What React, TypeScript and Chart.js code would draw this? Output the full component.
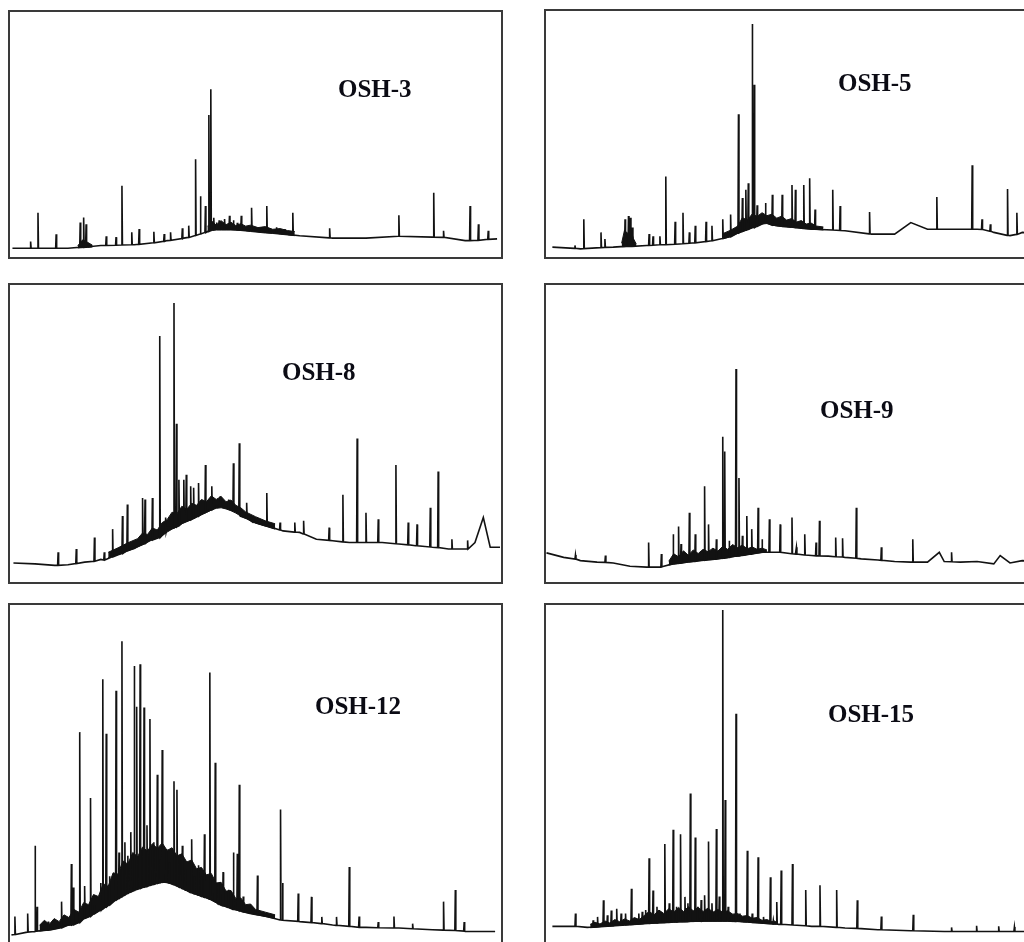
import React, { useEffect, useRef } from "react";
import { Chart, registerables } from "chart.js";

Chart.register(...registerables);

type Pt = [number, number];
type Pk = [number, number, number]; // [retention, baseline under peak, peak top]
type Bd = [number, number, number]; // [retention, lower edge, upper edge] of unresolved hump

// ---------- OSH-3 ----------
const osh3Baseline: Pt[] = [
  [0.5, 3.6], [11.8, 3.6], [18.5, 4.7], [25.3, 5.0], [32.0, 6.7], [35.4, 7.7], [38.8, 9.4],
  [41.5, 11.4], [45.5, 11.4], [52.3, 10.1], [59.0, 8.7], [65.7, 7.7], [72.5, 7.7],
  [79.2, 8.5], [86.0, 8.1], [92.7, 6.7], [99.2, 7.4],
];
const osh3Peaks: Pk[] = [
  [4.2, 3.6, 6.3], [5.7, 3.6, 18.1], [9.4, 3.6, 9.3], [14.3, 4.0, 14.1], [15.0, 4.0, 16.1],
  [15.5, 4.1, 13.4], [19.6, 4.7, 8.5], [21.6, 4.8, 8.1], [22.8, 4.9, 29.1], [24.8, 5.0, 10.1],
  [26.3, 5.2, 11.4], [29.3, 5.8, 10.3], [31.4, 6.4, 9.4], [32.7, 6.8, 10.1], [35.1, 7.5, 11.7],
  [36.4, 8.0, 12.8], [37.8, 8.8, 39.9], [38.8, 9.4, 24.8], [39.8, 10.0, 20.8], [40.5, 10.6, 58.0],
  [40.9, 11.0, 68.5], [41.5, 11.3, 16.0], [42.1, 11.4, 14.1], [42.6, 11.4, 15.0], [43.2, 11.4, 13.8],
  [43.7, 11.4, 15.5], [44.7, 11.4, 16.8], [45.5, 11.4, 15.0], [46.3, 11.2, 14.0], [47.1, 11.0, 16.8],
  [49.2, 10.7, 20.1], [52.3, 10.1, 20.8], [54.3, 9.8, 12.1], [56.0, 9.4, 11.4], [57.6, 9.0, 18.1],
  [65.1, 7.8, 11.7], [79.2, 8.5, 17.0], [86.3, 8.1, 26.2], [88.3, 8.0, 10.7], [93.7, 6.7, 20.8],
  [95.4, 6.8, 13.4], [97.4, 7.2, 10.7],
];
const osh3HumpEarly: Bd[] = [
  [13.8, 3.7, 4.6], [14.8, 3.8, 7.0], [15.8, 3.9, 6.0], [16.8, 4.1, 4.8],
];
const osh3HumpMain: Bd[] = [
  [40.2, 10.2, 12.5], [41.2, 10.8, 14.5], [42.0, 11.0, 13.0], [43.0, 11.0, 14.8], [44.0, 11.0, 13.2],
  [45.0, 11.0, 14.2], [46.0, 10.9, 12.8], [47.0, 10.8, 13.6], [48.0, 10.6, 12.6], [49.0, 10.4, 13.0],
  [50.5, 10.1, 12.0], [52.0, 9.8, 12.4], [53.5, 9.6, 11.3], [55.0, 9.3, 11.6], [56.5, 9.0, 10.8],
  [58.0, 8.7, 10.4],
];

// ---------- OSH-5 ----------
const osh5Baseline: Pt[] = [
  [1.3, 4.0], [7.0, 3.3], [13.7, 4.0], [20.5, 4.7], [27.2, 5.3], [33.9, 6.7], [39.3, 10.0],
  [42.0, 12.0], [44.7, 14.0], [47.4, 12.7], [54.1, 11.3], [60.9, 10.7], [66.3, 9.3], [71.0, 9.3],
  [74.3, 14.0], [77.7, 11.3], [81.1, 11.3], [87.8, 11.3], [91.2, 10.0], [94.5, 8.7], [97.0, 10.0],
  [100, 9.5],
];
const osh5Peaks: Pk[] = [
  [5.9, 3.5, 4.7], [7.7, 3.4, 15.3], [11.2, 3.8, 10.0], [12.0, 3.9, 7.3], [16.1, 4.3, 15.3],
  [16.8, 4.3, 16.7], [17.2, 4.3, 16.0], [17.6, 4.3, 12.0], [21.0, 4.7, 9.3], [21.8, 4.8, 8.4],
  [23.2, 5.0, 8.4], [24.4, 5.0, 32.7], [26.3, 5.2, 14.3], [27.9, 5.4, 18.0], [29.2, 5.6, 10.0],
  [30.4, 5.8, 12.7], [32.6, 6.3, 14.3], [33.8, 6.6, 12.7], [36.0, 7.5, 15.3], [37.6, 8.3, 17.3],
  [39.2, 9.8, 58.0], [40.0, 10.5, 24.0], [40.7, 11.0, 27.3], [41.2, 11.3, 30.0], [42.0, 12.0, 94.7],
  [42.4, 12.0, 70.0], [43.0, 12.5, 21.0], [44.7, 14.0, 22.0], [46.1, 13.0, 25.3], [48.1, 12.5, 25.3],
  [50.1, 12.2, 29.3], [50.8, 12.0, 27.3], [52.5, 11.6, 29.3], [53.7, 11.4, 32.0], [54.8, 11.3, 19.3],
  [58.4, 11.0, 27.3], [59.9, 10.8, 20.7], [65.9, 9.4, 18.3], [79.6, 11.3, 24.4], [86.8, 11.3, 37.3],
  [88.8, 11.2, 15.3], [90.5, 10.5, 13.3], [94.0, 8.8, 27.6], [95.9, 9.2, 18.0],
];
const osh5HumpEarly: Bd[] = [
  [15.4, 4.2, 5.6], [16.0, 4.2, 11.0], [16.6, 4.3, 9.5], [17.2, 4.3, 12.0], [17.8, 4.4, 7.5], [18.4, 4.4, 5.2],
];
const osh5HumpMain: Bd[] = [
  [36.0, 7.4, 9.5], [37.5, 8.2, 10.8], [39.0, 9.6, 12.5], [40.0, 10.3, 16.0], [41.0, 11.0, 15.0],
  [42.0, 11.8, 17.5], [43.0, 12.6, 16.5], [44.0, 13.4, 18.0], [45.0, 13.6, 16.8], [46.0, 13.0, 17.4],
  [47.0, 12.6, 15.8], [48.0, 12.4, 16.6], [49.0, 12.2, 15.0], [50.0, 12.0, 15.6], [51.0, 11.9, 14.2],
  [52.0, 11.7, 14.8], [53.0, 11.5, 13.4], [54.0, 11.3, 13.8], [55.0, 11.2, 12.6], [56.5, 11.0, 12.2],
];

// ---------- OSH-8 ----------
const osh8Baseline: Pt[] = [
  [0.7, 6.4], [5.1, 6.1], [9.1, 5.6], [11.8, 5.8], [15.2, 6.7], [18.5, 7.6], [21.9, 9.1],
  [25.3, 11.3], [28.7, 14.4], [32.0, 18.3], [35.4, 20.6], [38.8, 22.8], [42.1, 25.6], [44.8, 24.4],
  [46.9, 22.2], [49.6, 20.0], [52.3, 18.9], [55.6, 17.2], [59.0, 16.7], [62.4, 14.4], [65.7, 13.9],
  [69.1, 13.3], [72.5, 13.3], [75.8, 13.3], [79.2, 12.8], [82.6, 12.2], [86.0, 11.7], [89.3, 11.1],
  [92.7, 11.1], [94.7, 13.3], [96.4, 21.7], [97.8, 11.7], [99.8, 11.7],
];
const osh8Peaks: Pk[] = [
  [9.8, 5.6, 10.0], [13.5, 6.2, 11.1], [17.2, 7.0, 15.0], [19.2, 7.4, 10.0], [20.9, 8.5, 17.8],
  [22.9, 9.6, 22.2], [23.9, 10.6, 26.1], [27.0, 12.8, 28.3], [27.5, 13.0, 27.8], [29.0, 14.2, 28.3],
  [30.5, 15.0, 82.8], [31.7, 16.8, 21.7], [33.4, 18.3, 93.9], [33.9, 18.6, 53.3], [34.4, 19.0, 34.4],
  [35.4, 20.2, 34.4], [35.9, 20.5, 36.1], [36.8, 21.0, 32.2], [37.4, 21.5, 31.7], [38.4, 22.3, 33.3],
  [39.8, 23.5, 39.4], [41.1, 24.4, 32.2], [42.8, 25.6, 28.9], [44.5, 24.8, 27.8], [45.5, 24.2, 40.0],
  [46.7, 23.2, 46.7], [48.2, 21.5, 26.7], [49.5, 20.2, 22.2], [52.3, 18.9, 30.0], [55.0, 17.5, 20.0],
  [58.0, 16.8, 20.0], [59.8, 16.2, 20.6], [65.0, 14.0, 18.3], [67.8, 13.5, 29.4], [70.7, 13.3, 48.3],
  [72.5, 13.3, 23.3], [75.0, 13.3, 21.1], [78.6, 12.9, 39.4], [81.1, 12.5, 20.0], [82.9, 12.2, 19.4],
  [85.6, 11.8, 25.0], [87.2, 11.6, 37.2], [90.0, 11.1, 14.4], [93.2, 11.1, 14.0],
];
const osh8Hump: Bd[] = [
  [20.0, 8.2, 10.0], [22.0, 9.2, 11.5], [24.0, 10.4, 13.2], [26.0, 11.8, 14.6], [27.0, 12.5, 16.5],
  [28.0, 13.4, 16.0], [29.0, 14.2, 18.2], [30.0, 14.8, 17.5], [31.0, 15.6, 20.0], [32.0, 16.8, 21.0],
  [33.0, 17.8, 23.5], [34.0, 18.6, 23.0], [35.0, 19.6, 25.5], [36.0, 20.3, 24.5], [37.0, 21.0, 26.5],
  [38.0, 21.8, 25.8], [39.0, 22.6, 27.8], [40.0, 23.4, 27.0], [41.0, 24.2, 29.0], [42.0, 24.8, 27.8],
  [43.0, 25.0, 28.8], [44.0, 24.6, 27.0], [45.0, 24.0, 27.6], [46.0, 23.2, 25.8], [47.0, 22.2, 25.0],
  [48.0, 21.4, 23.6], [50.0, 19.8, 22.0], [52.0, 18.8, 20.6], [54.0, 17.8, 19.6],
];

// ---------- OSH-9 ----------
const osh9Baseline: Pt[] = [
  [0.1, 9.8], [3.6, 8.3], [7.0, 7.2], [10.4, 6.7], [13.7, 6.4], [17.1, 5.3], [20.5, 5.0],
  [23.8, 5.2], [25.9, 6.1], [28.6, 6.7], [31.2, 7.2], [33.9, 7.6], [37.3, 8.3], [40.7, 9.1],
  [44.0, 10.0], [47.4, 10.0], [50.8, 9.4], [54.1, 8.9], [57.5, 8.7], [60.9, 8.3], [64.2, 7.8],
  [67.6, 7.4], [71.0, 6.9], [74.3, 6.7], [77.7, 6.7], [80.1, 10.0], [81.1, 6.9], [84.4, 6.7],
  [87.8, 6.9], [91.2, 6.1], [92.5, 8.9], [94.5, 6.4], [97.0, 7.2], [100, 6.9],
];
const osh9Peaks: Pk[] = [
  [6.0, 7.7, 9.1], [12.1, 6.6, 8.9], [20.9, 5.0, 13.3], [23.5, 5.1, 9.4], [25.9, 6.1, 16.1],
  [27.0, 6.3, 18.7], [27.5, 6.4, 12.8], [29.2, 6.8, 23.3], [30.4, 7.0, 16.1], [32.3, 7.3, 32.2],
  [33.1, 7.5, 19.4], [34.7, 7.7, 14.4], [36.0, 8.0, 48.9], [36.4, 8.1, 43.9], [37.3, 8.3, 13.9],
  [38.7, 8.7, 71.7], [39.3, 8.8, 35.0], [40.0, 9.0, 15.6], [40.9, 9.2, 22.2], [41.9, 9.4, 17.8],
  [43.2, 9.8, 25.0], [44.0, 10.0, 14.4], [45.5, 10.0, 21.1], [47.7, 10.0, 19.4], [50.1, 9.5, 21.7],
  [51.0, 9.4, 11.7], [52.7, 9.1, 16.1], [55.0, 8.8, 13.3], [55.7, 8.8, 20.6], [59.0, 8.5, 15.0],
  [60.4, 8.4, 14.7], [63.2, 8.0, 25.0], [68.3, 7.3, 11.7], [74.7, 6.7, 14.4], [82.6, 6.8, 10.0],
];
const osh9Hump: Bd[] = [
  [25.0, 5.7, 7.0], [26.0, 6.0, 9.5], [27.0, 6.2, 8.5], [28.0, 6.5, 10.5], [29.0, 6.7, 9.0],
  [30.0, 6.9, 10.8], [31.0, 7.1, 9.6], [32.0, 7.3, 11.0], [33.0, 7.4, 10.2], [34.0, 7.6, 11.4],
  [35.0, 7.8, 10.4], [36.0, 8.0, 12.0], [37.0, 8.2, 11.0], [38.0, 8.5, 12.6], [39.0, 8.7, 11.6],
  [40.0, 9.0, 12.4], [41.0, 9.2, 11.2], [42.0, 9.5, 11.8], [43.0, 9.7, 11.0], [44.0, 9.9, 11.4],
  [45.0, 10.0, 10.8],
];

// ---------- OSH-12 ----------
const osh12Baseline: Pt[] = [
  [0.3, 2.7], [5.1, 3.7], [8.4, 4.2], [11.8, 5.6], [15.2, 7.6], [18.5, 10.0], [21.9, 13.2],
  [25.3, 15.8], [28.7, 17.3], [31.4, 18.3], [33.4, 17.5], [36.7, 15.2], [40.1, 13.6], [42.8, 11.6],
  [45.5, 10.2], [48.9, 9.0], [52.3, 8.1], [55.6, 7.1], [59.0, 6.6], [65.7, 5.6], [72.5, 4.9],
  [79.2, 4.7], [86.0, 4.2], [92.7, 3.7], [98.8, 3.7],
];
const osh12Peaks: Pk[] = [
  [1.0, 2.8, 8.1], [3.6, 3.5, 9.0], [5.1, 3.7, 29.0], [5.5, 3.8, 11.0], [7.8, 4.1, 6.6],
  [10.5, 4.8, 12.5], [12.5, 5.6, 23.6], [12.9, 5.7, 16.7], [14.2, 6.4, 62.5], [15.2, 7.6, 17.1],
  [16.4, 8.2, 43.1], [17.2, 9.0, 11.5], [18.5, 10.0, 18.0], [18.9, 10.4, 78.1], [19.6, 11.0, 62.0],
  [20.3, 11.6, 20.0], [21.6, 13.0, 74.7], [22.2, 13.5, 27.0], [22.8, 14.0, 89.3], [23.4, 14.5, 30.0],
  [24.0, 15.0, 26.0], [24.6, 15.4, 33.0], [25.3, 15.8, 82.0], [25.8, 16.1, 70.0], [26.5, 16.4, 82.5],
  [27.3, 16.8, 69.8], [27.9, 17.0, 35.0], [28.5, 17.3, 66.4], [29.3, 17.6, 30.0], [30.0, 17.9, 49.9],
  [30.6, 18.1, 25.0], [31.0, 18.2, 57.2], [31.8, 18.2, 28.0], [32.4, 18.0, 24.0], [33.4, 17.5, 48.0],
  [34.0, 17.1, 45.5], [34.6, 16.7, 26.0], [35.1, 16.4, 29.0], [35.8, 15.9, 22.0], [37.0, 15.1, 30.9],
  [37.6, 14.8, 20.0], [38.4, 14.4, 23.2], [39.0, 14.1, 20.0], [39.6, 13.8, 32.4], [40.7, 13.2, 80.1],
  [41.8, 12.5, 53.5], [42.4, 11.9, 18.0], [43.4, 11.3, 21.2], [44.5, 10.8, 16.0], [45.5, 10.2, 27.0],
  [46.3, 10.0, 26.6], [46.7, 9.8, 47.0], [47.5, 9.5, 14.0], [50.4, 8.6, 20.2], [55.1, 7.1, 39.7],
  [55.5, 7.0, 18.0], [58.7, 6.7, 14.9], [61.4, 6.3, 13.9], [63.5, 6.0, 8.0], [66.5, 5.5, 8.0],
  [69.1, 5.2, 22.7], [71.1, 4.9, 8.1], [75.0, 4.8, 6.5], [78.2, 4.7, 8.1], [82.0, 4.5, 6.0],
  [88.3, 4.1, 12.5], [90.7, 4.0, 15.9], [92.5, 3.8, 6.5],
];
const osh12Hump: Bd[] = [
  [6.0, 3.8, 5.5], [7.0, 4.0, 7.0], [8.0, 4.1, 5.8], [9.0, 4.4, 7.5], [10.0, 4.7, 6.6],
  [11.0, 5.2, 8.6], [12.0, 5.5, 7.8], [13.0, 5.9, 10.2], [14.0, 6.3, 9.4], [15.0, 7.4, 12.2],
  [16.0, 8.0, 11.6], [17.0, 8.8, 14.6], [18.0, 9.6, 14.0], [19.0, 10.5, 17.8], [20.0, 11.3, 17.0],
  [21.0, 12.4, 21.0], [22.0, 13.4, 20.6], [23.0, 14.2, 24.5], [24.0, 15.0, 23.6], [25.0, 15.6, 27.0],
  [26.0, 16.2, 25.8], [27.0, 16.7, 28.6], [28.0, 17.1, 27.4], [29.0, 17.5, 29.6], [30.0, 17.9, 28.2],
  [31.0, 18.2, 29.8], [32.0, 18.1, 27.6], [33.0, 17.7, 28.4], [34.0, 17.1, 26.0], [35.0, 16.5, 26.6],
  [36.0, 15.7, 24.2], [37.0, 15.1, 24.8], [38.0, 14.6, 22.2], [39.0, 14.1, 22.6], [40.0, 13.6, 20.4],
  [41.0, 13.0, 20.8], [42.0, 12.2, 18.0], [43.0, 11.5, 18.2], [44.0, 11.0, 15.6], [45.0, 10.5, 15.8],
  [46.0, 10.1, 13.4], [47.0, 9.7, 13.6], [48.0, 9.3, 11.6], [49.0, 9.0, 11.8], [50.0, 8.7, 10.2],
  [52.0, 8.1, 9.4], [54.0, 7.5, 8.6],
];

// ---------- OSH-15 ----------
const osh15Baseline: Pt[] = [
  [1.3, 5.2], [5.7, 5.2], [8.4, 4.9], [13.7, 5.4], [20.5, 6.1], [27.2, 6.6], [33.9, 6.8],
  [40.7, 6.6], [47.4, 5.8], [54.1, 5.2], [60.9, 4.7], [67.6, 4.2], [74.3, 3.9], [81.1, 3.7],
  [87.8, 3.7], [97.0, 3.7], [100, 3.7],
];
const osh15Peaks: Pk[] = [
  [6.0, 5.2, 9.0], [9.6, 5.0, 7.0], [10.5, 5.1, 8.0], [11.7, 5.3, 12.9], [12.5, 5.3, 8.5],
  [13.3, 5.4, 9.9], [14.4, 5.6, 10.4], [15.3, 5.7, 9.0], [16.2, 5.7, 9.0], [17.4, 5.8, 16.3],
  [18.9, 5.9, 9.0], [19.6, 6.0, 9.5], [20.3, 6.1, 10.0], [21.0, 6.1, 25.3], [21.8, 6.2, 15.8],
  [22.6, 6.2, 11.0], [23.3, 6.3, 9.0], [24.2, 6.3, 29.5], [25.1, 6.4, 12.0], [25.9, 6.5, 33.7],
  [26.6, 6.5, 11.0], [27.4, 6.6, 32.4], [28.3, 6.6, 13.9], [28.9, 6.6, 12.0], [29.4, 6.7, 44.4],
  [30.4, 6.7, 31.4], [30.9, 6.7, 11.0], [31.6, 6.7, 13.0], [32.3, 6.8, 14.4], [33.1, 6.8, 30.2],
  [33.8, 6.8, 12.0], [34.7, 6.8, 33.9], [35.3, 6.8, 14.0], [36.0, 6.8, 98.5], [36.5, 6.8, 42.5],
  [37.1, 6.8, 11.0], [37.8, 6.8, 9.0], [38.7, 6.7, 67.9], [39.5, 6.7, 9.0], [40.3, 6.6, 8.0],
  [41.0, 6.6, 27.5], [42.0, 6.4, 9.0], [43.2, 6.3, 25.6], [44.3, 6.1, 8.0], [45.7, 6.0, 19.7],
  [46.3, 5.9, 7.0], [47.0, 5.9, 12.4], [47.9, 5.8, 21.7], [50.2, 5.6, 23.6], [52.9, 5.4, 15.9],
  [55.8, 5.2, 17.3], [59.2, 4.9, 15.9], [63.4, 4.6, 12.9], [68.3, 4.2, 8.1], [74.8, 3.9, 8.6],
  [82.6, 3.7, 4.9], [87.7, 3.7, 5.4], [92.2, 3.7, 5.2], [95.4, 3.7, 5.0],
];
const osh15Hump: Bd[] = [
  [9.0, 4.8, 5.8], [10.0, 4.9, 6.4], [11.0, 5.0, 5.9], [12.0, 5.1, 6.8], [13.0, 5.2, 6.2],
  [14.0, 5.3, 7.2], [15.0, 5.4, 6.6], [16.0, 5.5, 7.4], [17.0, 5.6, 6.8], [18.0, 5.7, 7.8],
  [19.0, 5.8, 7.2], [20.0, 5.9, 8.4], [21.0, 6.0, 9.6], [22.0, 6.1, 8.6], [23.0, 6.2, 10.0],
  [24.0, 6.3, 9.0], [25.0, 6.4, 10.4], [26.0, 6.4, 9.4], [27.0, 6.5, 10.8], [28.0, 6.5, 9.6],
  [29.0, 6.6, 11.0], [30.0, 6.6, 9.8], [31.0, 6.7, 10.8], [32.0, 6.7, 9.6], [33.0, 6.7, 10.6],
  [34.0, 6.7, 9.4], [35.0, 6.7, 10.2], [36.0, 6.7, 9.4], [37.0, 6.7, 9.8], [38.0, 6.6, 8.8],
  [39.0, 6.6, 9.0], [40.0, 6.5, 8.2], [41.0, 6.4, 8.4], [42.0, 6.3, 7.6], [43.0, 6.2, 7.8],
  [44.0, 6.1, 7.0], [45.0, 6.0, 7.2], [46.0, 5.9, 6.6], [47.0, 5.8, 6.6],
];

const sampleNames = ["OSH-3", "OSH-5", "OSH-8", "OSH-9", "OSH-12", "OSH-15"];

function buildTrace(base: Pt[], peaks: Pk[]) {
  const pts: { x: number; y: number }[] = [];
  base.forEach(([x, y]) => pts.push({ x, y }));
  peaks.forEach(([x, lo, hi]) => {
    pts.push({ x: x - 0.1, y: lo });
    pts.push({ x, y: hi });
    pts.push({ x: x + 0.1, y: lo });
  });
  pts.sort((a, b) => a.x - b.x);
  return pts;
}

const ink = "#121212";

function humpDatasets(humps: Bd[][]) {
  const out: any[] = [];
  humps.forEach((h) => {
    out.push({
      data: h.map(([x, lo]) => ({ x, y: lo })),
      borderColor: ink, borderWidth: 1, pointRadius: 0, tension: 0, fill: false,
    });
    out.push({
      data: h.map(([x, , hi]) => ({ x, y: hi })),
      borderColor: ink, borderWidth: 1, backgroundColor: ink, pointRadius: 0, tension: 0, fill: "-1",
    });
  });
  return out;
}

type PanelProps = {
  left: number; top: number; width: number; height: number;
  base: Pt[]; peaks: Pk[]; humps: Bd[][]; title: string; tx: number; ty: number;
};

function Panel({ left, top, width, height, base, peaks, humps, title, tx, ty }: PanelProps) {
  const ref = useRef<HTMLCanvasElement>(null);
  useEffect(() => {
    const chart = new Chart(ref.current!, {
      type: "line",
      data: {
        datasets: [
          {
            data: buildTrace(base, peaks),
            borderColor: ink,
            borderWidth: 1.6,
            pointRadius: 0,
            tension: 0,
            fill: false,
          },
          ...humpDatasets(humps),
        ],
      },
      options: {
        animation: false,
        responsive: true,
        maintainAspectRatio: false,
        events: [],
        layout: { padding: 0 },
        scales: {
          x: { type: "linear", min: 0, max: 100, display: false },
          y: { type: "linear", min: 0, max: 100, display: false },
        },
        plugins: { legend: { display: false }, tooltip: { enabled: false }, title: { display: false } },
      },
    });
    return () => chart.destroy();
  }, []);
  return (
    <div style={{
      position: "absolute", left, top, width, height,
      border: "2px solid #3a3a3a", boxSizing: "border-box", background: "#fff",
    }}>
      <div style={{ position: "absolute", left: 0, top: 0, right: 0, bottom: 0 }}>
        <canvas ref={ref} />
      </div>
      <div style={{
        position: "absolute", left: tx - left - 2, top: ty - top - 6,
        fontFamily: "'Liberation Serif', 'Times New Roman', serif", fontWeight: "bold",
        fontSize: 25, lineHeight: "25px", color: "#0b0b14", whiteSpace: "nowrap",
      }}>{title}</div>
    </div>
  );
}

export default function App() {
  return (
    <div style={{ position: "absolute", left: 0, top: 0, width: 1024, height: 942, overflow: "hidden", background: "#fff" }}>
      <Panel left={8} top={10} width={495} height={249} base={osh3Baseline} peaks={osh3Peaks} humps={[osh3HumpEarly, osh3HumpMain]} title={sampleNames[0]} tx={338} ty={80} />
      <Panel left={544} top={9} width={495} height={250} base={osh5Baseline} peaks={osh5Peaks} humps={[osh5HumpEarly, osh5HumpMain]} title={sampleNames[1]} tx={838} ty={74} />
      <Panel left={8} top={283} width={495} height={301} base={osh8Baseline} peaks={osh8Peaks} humps={[osh8Hump]} title={sampleNames[2]} tx={282} ty={363} />
      <Panel left={544} top={283} width={495} height={301} base={osh9Baseline} peaks={osh9Peaks} humps={[osh9Hump]} title={sampleNames[3]} tx={820} ty={401} />
      <Panel left={8} top={603} width={495} height={343} base={osh12Baseline} peaks={osh12Peaks} humps={[osh12Hump]} title={sampleNames[4]} tx={315} ty={697} />
      <Panel left={544} top={603} width={495} height={343} base={osh15Baseline} peaks={osh15Peaks} humps={[osh15Hump]} title={sampleNames[5]} tx={828} ty={705} />
    </div>
  );
}
